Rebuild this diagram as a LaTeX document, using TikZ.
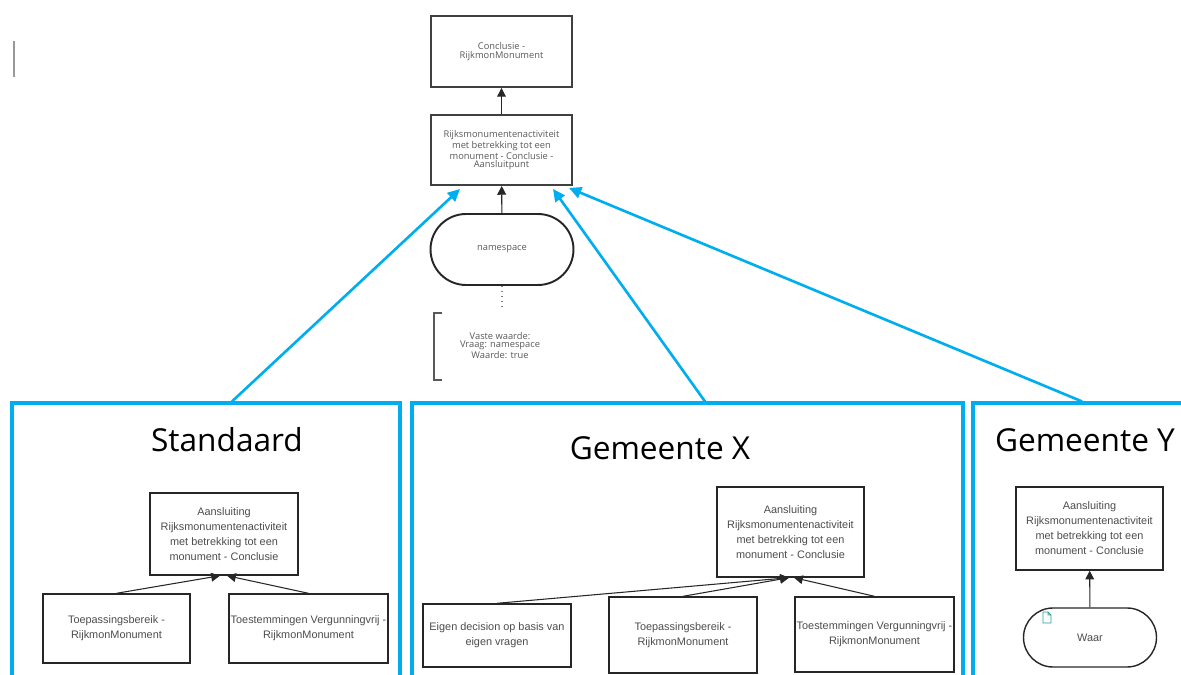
\documentclass[tikz,border=0pt]{standalone}
\usepackage{fontspec}
\setmainfont{Open Sans}
\newfontfamily\arialfont{Liberation Sans}
\usetikzlibrary{arrows.meta}
\definecolor{panelblue}{RGB}{0,174,239}
\definecolor{icongreen}{RGB}{40,160,150}

\begin{document}
\begin{tikzpicture}[x=0.02cm,y=-0.02cm,
  topbox/.style={draw=black!75,line width=1.1pt,inner sep=0pt,minimum width=2.82cm,
                 align=center,text=black!65,font=\fontsize{5.3}{4.9}\selectfont},
  pill/.style={draw=black!85,line width=1.1pt,inner sep=0pt,text=black!65,
               font=\fontsize{5.3}{4.9}\selectfont},
  panel/.style={draw=panelblue,line width=1.8pt,inner sep=0pt,minimum height=5.94cm},
  paneltitle/.style={anchor=base,font=\fontsize{18}{20}\selectfont},
  subbox/.style={draw=black!85,line width=0.8pt,inner sep=0pt,align=center,text=black!70,
                 font=\arialfont\fontsize{6.2}{8.5}\selectfont},
  darrow/.style={-{Triangle[length=5pt,width=5pt]},black!85,line width=0.6pt},
  bluearrow/.style={-{Triangle[length=7pt,width=6.5pt]},panelblue,line width=1.5pt}]
  \clip (0,0) rectangle (1181,675);
  \draw[black!40,line width=1pt] (14,41) -- (14,77);
  \node[topbox,minimum height=1.42cm] (concl) at (501.5,51.5) {Conclusie -\\RijkmonMonument};
  \node[topbox,minimum height=1.40cm] (rsm)   at (501.5,150)
       {Rijksmonumentenactiviteit\\met betrekking tot een\\monument - Conclusie -\\Aansluitpunt};
  \node[pill,minimum width=2.86cm,minimum height=1.42cm,rounded corners=0.71cm] (ns) at (502,249.5) {namespace};
  \coordinate (nsend) at (502,308);
  \node[align=center,text=black!65,font=\fontsize{5.3}{4.8}\selectfont] (vaste) at (500,345.5)
       {Vaste waarde:\\Vraag: namespace\\Waarde: true};
  \draw[black!65,line width=0.9pt] (442,313) -- (434,313) -- (434,380) -- (442,380);
  \draw[darrow] (rsm) -- (concl);
  \draw[darrow] (ns) -- (rsm);
  \draw[black!50,line width=0.8pt,dotted] (ns.south) -- (nsend);
  % Standaard
  \node[panel,minimum width=7.76cm] (std) at (206,551.5) {};
  \node[paneltitle] at (227,452) {Standaard};
  \node[subbox,minimum width=2.96cm,minimum height=1.64cm] (stdA) at (224,534)
       {Aansluiting\\Rijksmonumentenactiviteit\\met betrekking tot een\\monument - Conclusie};
  \node[subbox,minimum width=2.94cm,minimum height=1.38cm] (stdT) at (116.5,628.5)
       {Toepassingsbereik -\\RijkmonMonument};
  \node[subbox,minimum width=3.18cm,minimum height=1.38cm] (stdV) at (308.5,628.5)
       {Toestemmingen Vergunningvrij -\\RijkmonMonument};
  \draw[darrow] (stdT.north) -- ([xshift=-0.08cm]stdA.south);
  \draw[darrow] (stdV.north) -- ([xshift=0.06cm]stdA.south);
  % Gemeente X
  \node[panel,minimum width=11.02cm] (gx) at (687.5,551.5) {};
  \node[paneltitle] at (660,460) {Gemeente X};
  \node[subbox,minimum width=2.94cm,minimum height=1.80cm] (gxA) at (790.5,532)
       {Aansluiting\\Rijksmonumentenactiviteit\\met betrekking tot een\\monument - Conclusie};
  \node[subbox,minimum width=2.96cm,minimum height=1.26cm] (gxE) at (497,635.5)
       {Eigen decision op basis van\\eigen vragen};
  \node[subbox,minimum width=2.96cm,minimum height=1.52cm] (gxT) at (683,635)
       {Toepassingsbereik -\\RijkmonMonument};
  \node[subbox,minimum width=3.18cm,minimum height=1.50cm] (gxV) at (874.5,634.5)
       {Toestemmingen Vergunningvrij -\\RijkmonMonument};
  \draw[darrow] (gxE.north) -- ([xshift=-0.03cm]gxA.south);
  \draw[darrow] (gxT.north) -- ([xshift=-0.03cm]gxA.south);
  \draw[darrow] (gxV.north) -- ([xshift=0.07cm]gxA.south);
  % Gemeente Y
  \node[panel,minimum width=4.36cm] (gy) at (1082,551.5) {};
  \node[paneltitle] at (1085,452) {Gemeente Y};
  \node[subbox,minimum width=2.94cm,minimum height=1.66cm] (gyA) at (1089.5,528.5)
       {Aansluiting\\Rijksmonumentenactiviteit\\met betrekking tot een\\monument - Conclusie};
  \node[subbox,minimum width=2.66cm,minimum height=1.18cm,rounded corners=0.59cm] (gyW) at (1090,637.5) {Waar};
  \draw[darrow] (gyW) -- (gyA);
  \draw[icongreen,line width=0.5pt] (1043,612) -- (1048,612) -- (1051,615) -- (1051,623) -- (1043,623) -- cycle
        (1048,612) -- (1048,615) -- (1051,615);
  % verbindingen
  \draw[bluearrow] ([xshift=0.52cm]std.north) -- ([xshift=-0.83cm,yshift=-0.06cm]rsm.south);
  \draw[bluearrow] ([xshift=0.35cm]gx.north) -- ([xshift=1.03cm,yshift=-0.06cm]rsm.south);
  \draw[bluearrow] (gy.north) -- ([xshift=1.35cm,yshift=-0.04cm]rsm.south);
\end{tikzpicture}
\end{document}
